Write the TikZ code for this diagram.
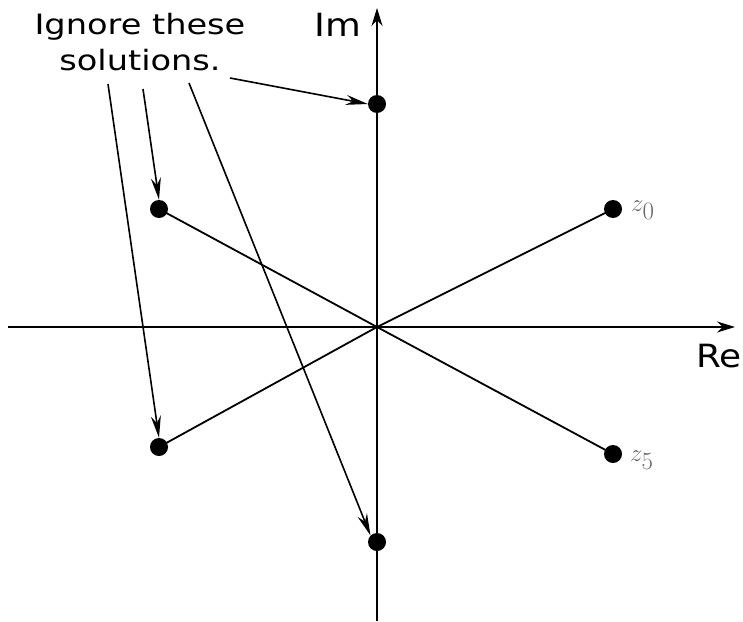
\documentclass[tikz,border=0pt]{standalone}
\usepackage{fontspec}
\setmainfont{DejaVu Sans}
\usetikzlibrary{arrows.meta}
\begin{document}
\begin{tikzpicture}[x=1pt,y=-1pt,
  axis/.style={line width=2pt,-{Stealth[length=18pt,width=11pt]}},
  ray/.style={line width=1.8pt},
  pointer/.style={line width=1.6pt,-{Stealth[length=22pt,width=10pt]}},
  dot/.style={circle,fill=black,inner sep=0pt,minimum size=18pt},
  zlabel/.style={text=black!60,font=\fontsize{38}{38}\selectfont,anchor=west,inner sep=0pt},
  axlabel/.style={font=\fontsize{32}{32}\selectfont,inner sep=0pt}]
\useasboundingbox (0,0) rectangle (743,621);
% axes
\coordinate (xl) at (8,327);
\coordinate (xr) at (735,327);
\coordinate (yb) at (377,621);
\coordinate (yt) at (377,8);
\coordinate (o) at (377,327);
\draw[axis] (xl) -- (xr);
\draw[axis] (yb) -- (yt);
\node[axlabel] (re) at (719,356) {\scalebox{1.12}[1]{Re}};
\node[axlabel] (im) at (338,25) {\scalebox{1.15}[1]{Im}};
% dots
\node[dot] (z0) at (613,209) {};
\node[dot] (z5) at (613,454) {};
\node[dot] (ul) at (159,209) {};
\node[dot] (ll) at (159,447) {};
\node[dot] (top) at (377,104) {};
\node[dot] (bot) at (377,542) {};
% rays
\draw[ray] (ul.center) -- (o) -- (z5.center);
\draw[ray] (ll.center) -- (o) -- (z0.center);
% labels
\node[zlabel] (l0) at (631,210) {$z_0$};
\node[zlabel] (l5) at (630,460) {$z_5$};
% text
\node[font=\fontsize{28}{40}\selectfont,inner sep=0pt] (txt) at (140,44) {\scalebox{1.2}[1]{\begin{tabular}{@{}c@{}}Ignore these\\[-4pt]solutions.\end{tabular}}};
\coordinate (s1) at (230,78);
\coordinate (s2) at (143,89);
\coordinate (s3) at (108,84);
\coordinate (s4) at (189,83);
\draw[pointer] (s1) -- (top.west);
\draw[pointer] (s2) -- (ul.north);
\draw[pointer] (s3) -- (ll.north);
\draw[pointer] (s4) -- (bot.north west);
\end{tikzpicture}
\end{document}
